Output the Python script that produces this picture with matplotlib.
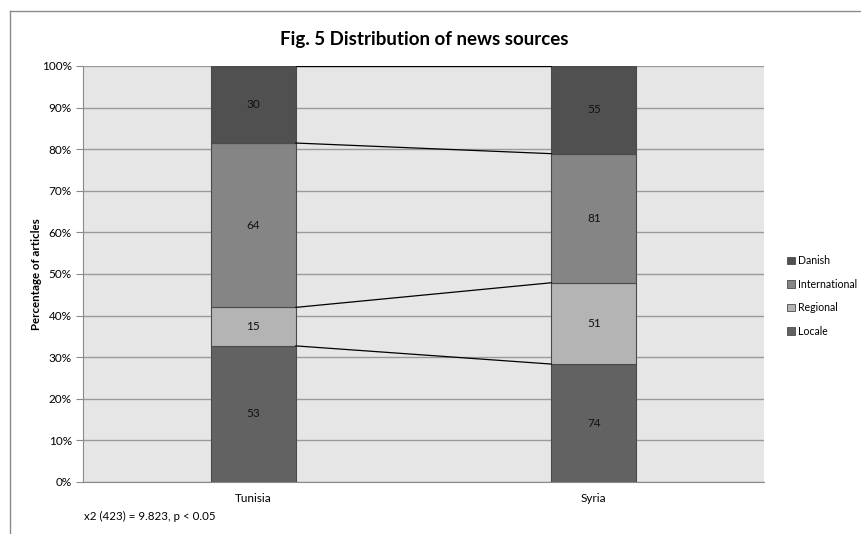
import numpy as np
import matplotlib.pyplot as plt
from matplotlib.lines import Line2D
from matplotlib.patches import Patch

# article counts per source type
countries = ["Tunisia", "Syria"]
series = ["Locale", "Regional", "International", "Danish"]
locale = [53, 74]
regional = [15, 51]
international = [64, 81]
danish = [30, 55]
colors = ["#626262", "#b4b4b4", "#858585", "#505050"]

plt.rcParams['font.family'] = ['Lato', 'DejaVu Sans']

counts = np.array([locale, regional, international, danish], dtype=float)
shares = counts / counts.sum(axis=0) * 100
tops = np.cumsum(shares, axis=0)
bottoms = tops - shares

fig = plt.figure(figsize=(8.61, 5.34), dpi=100)
ax = fig.add_axes([83 / 861, 1 - 482 / 534, (764 - 83) / 861, (482 - 66) / 534])
ax.set_facecolor("#e6e6e6")

x = np.arange(len(countries))
width = 0.25
for i, name in enumerate(series):
    ax.bar(x, shares[i], width, bottom=bottoms[i], color=colors[i],
           edgecolor="#4a4a4a", linewidth=0.8, zorder=3)
    for j in range(len(countries)):
        ax.text(x[j], bottoms[i][j] + shares[i][j] / 2, f"{int(counts[i][j])}",
                ha="center", va="center", fontsize=8.5, color="#111111", zorder=4)

# series lines between the bars
for i in range(len(series)):
    ax.plot([x[0] + width / 2, x[1] - width / 2], [tops[i][0], tops[i][1]],
            color="black", linewidth=0.9, zorder=3)

ax.set_xlim(-0.5, 1.5)
ax.set_ylim(0, 100)
ax.set_yticks(np.arange(0, 101, 10))
ax.set_yticklabels([f"{v}%" for v in range(0, 101, 10)])
ax.yaxis.grid(True, color="#9a9a9a", linewidth=1.0, zorder=0)
ax.set_axisbelow(True)
ax.set_xticks(x)
ax.set_xticklabels(countries)
ax.tick_params(axis="y", length=5, color="#8a8a8a", labelsize=8.5, pad=3)
ax.tick_params(axis="x", length=0, labelsize=8.5, pad=8)
for side in ["top", "right"]:
    ax.spines[side].set_visible(False)
ax.spines["left"].set_color("#8a8a8a")
ax.spines["bottom"].set_color("#8a8a8a")

ax.set_ylabel("Percentage of articles", fontsize=8.3, fontweight="bold", labelpad=0)

fig.text(424 / 861, 1 - 40 / 534, "Fig. 5 Distribution of news sources",
         ha="center", va="center", fontsize=13.5, fontweight="bold")
fig.text(84 / 861, 1 - 516 / 534, "x2 (423) = 9.823, p < 0.05",
         ha="left", va="center", fontsize=8.3)

handles = [Patch(facecolor=colors[i], edgecolor="#4a4a4a", linewidth=0.6, label=series[i])
           for i in range(len(series) - 1, -1, -1)]
fig.legend(handles=handles, loc="upper left", bbox_to_anchor=(783 / 861, 1 - 251 / 534),
           frameon=False, fontsize=7.6, handlelength=0.75, handleheight=0.75,
           handletextpad=0.25, labelspacing=1.18, borderaxespad=0)

# outer frame
fig.add_artist(Line2D([10 / 861, 10 / 861], [0, 1 - 11 / 534], color="#8a8a8a", linewidth=1.0))
fig.add_artist(Line2D([10 / 861, 1], [1 - 11 / 534, 1 - 11 / 534], color="#8a8a8a", linewidth=1.0))

fig.savefig("out.png", dpi=100)
